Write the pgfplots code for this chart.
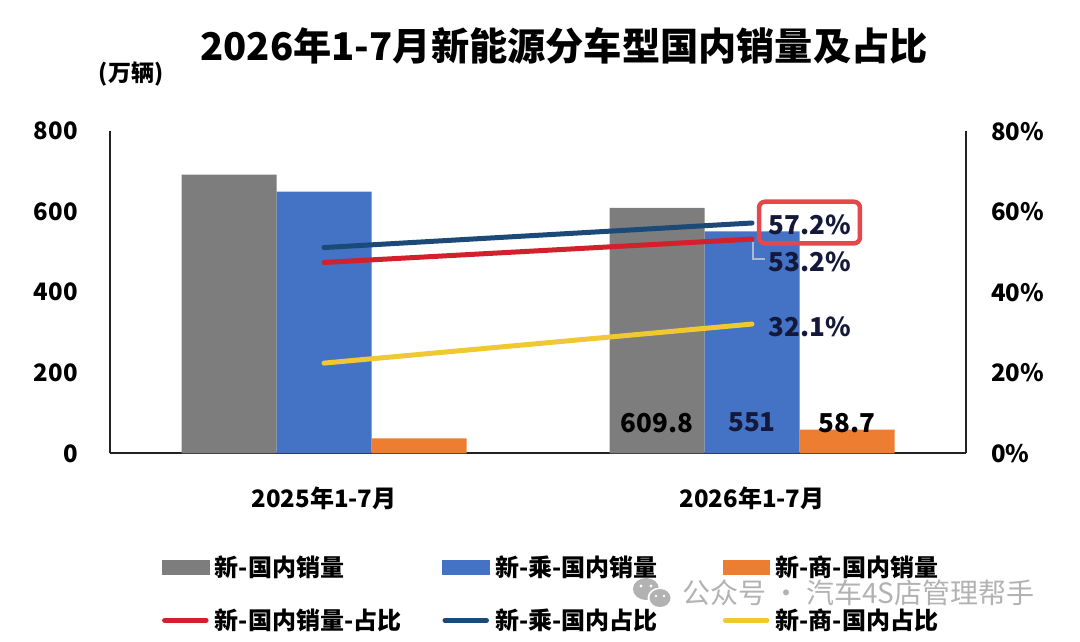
\documentclass[border=0pt]{standalone}
\usepackage{fontspec}
\setmainfont{Noto Sans CJK SC}
\usepackage{pgfplots}
\pgfplotsset{compat=1.18}
\definecolor{cgrey}{HTML}{7C7D7C}
\definecolor{cblue}{HTML}{4472C4}
\definecolor{corange}{HTML}{ED7D31}
\definecolor{cred}{HTML}{D2202C}
\definecolor{cnavy}{HTML}{1B4A78}
\definecolor{cyellow}{HTML}{F0C832}
\definecolor{axisc}{HTML}{222222}
\definecolor{lbltext}{HTML}{14183A}
\definecolor{boxred}{HTML}{E4474C}
\definecolor{leader}{HTML}{A9B9D6}
\definecolor{wmgrey}{HTML}{B2B2B2}
\begin{document}
\begin{tikzpicture}[x=1pt,y=1pt]
\path[use as bounding box] (0,0) rectangle (1080,642);
\node[font=\bfseries\fontsize{38.2}{42}\selectfont, inner sep=0pt] at (564,596.4) {2026年1-7月新能源分车型国内销量及占比};
\node[font=\bfseries\fontsize{23}{26}\selectfont, inner sep=0pt] at (131,568) {(万辆)};

\begin{axis}[
  at={(110pt,188.7pt)}, anchor=south west, scale only axis,
  width=856pt, height=322.1pt,
  xmin=-0.5, xmax=1.5, ymin=0, ymax=800, enlargelimits=false,
  ybar=0pt, bar width=95pt,
  axis x line*=bottom, axis y line*=left,
  axis line style={line width=2pt, draw=axisc},
  xtick={0,1}, xticklabels={2025年1-7月,2026年1-7月},
  ytick={0,200,400,600,800},
  major tick length=0pt,
  /pgf/number format/assume math mode=true,
  tick label style={font=\bfseries\fontsize{24}{28}\selectfont, text=black},
  yticklabel style={inner sep=0pt, anchor=east, xshift=-32pt},
  xticklabel style={inner sep=0pt, anchor=center, yshift=-45pt},
  clip=false,
]
\addplot[fill=cgrey, draw=none] coordinates {(0,692) (1,609.8)};
\addplot[fill=cblue, draw=none] coordinates {(0,650) (1,551)};
\addplot[fill=corange, draw=none] coordinates {(0,37) (1,58.7)};
\end{axis}

\begin{axis}[
  at={(110pt,188.7pt)}, anchor=south west, scale only axis,
  width=856pt, height=322.1pt,
  xmin=-0.5, xmax=1.5, ymin=0, ymax=80, enlargelimits=false,
  axis x line=none, axis y line*=right,
  axis line style={line width=2pt, draw=axisc},
  ytick={0,20,40,60,80},
  yticklabel={\pgfmathprintnumber{\tick}\%},
  major tick length=0pt,
  /pgf/number format/assume math mode=true,
  tick label style={font=\bfseries\fontsize{24}{28}\selectfont, text=black},
  yticklabel style={inner sep=0pt, anchor=west, xshift=25pt},
  clip=false,
  legend columns=3,
  legend style={at={(0.0604,-0.318)}, anchor=north west, draw=none, fill=none,
    inner sep=0pt, row sep=31pt, column sep=0pt,
    font=\bfseries\fontsize{24}{28}\selectfont,
    nodes={inner sep=0pt, text width=227.4pt, align=left},
    /tikz/every odd column/.append style={column sep=6pt}},
  legend image code/.code={\draw[#1] (2.5pt,0pt) -- (44pt,0pt);},
]
\addlegendimage{legend image code/.code={\fill[cgrey] (0pt,-7pt) rectangle (46.6pt,7pt);}}
\addlegendentry{新-国内销量}
\addlegendimage{legend image code/.code={\fill[cblue] (0pt,-7pt) rectangle (46.6pt,7pt);}}
\addlegendentry{新-乘-国内销量}
\addlegendimage{legend image code/.code={\fill[corange] (0pt,-7pt) rectangle (46.6pt,7pt);}}
\addlegendentry{新-商-国内销量}
\addplot[cred, line width=5pt, line cap=round] coordinates {(0,47.4) (1,53.2)};
\addlegendentry{新-国内销量-占比}
\addplot[cnavy, line width=5pt, line cap=round] coordinates {(0,51.1) (1,57.2)};
\addlegendentry{新-乘-国内占比}
\addplot[cyellow, line width=5pt, line cap=round] coordinates {(0,22.4) (1,32.1)};
\addlegendentry{新-商-国内占比}
% data labels of the 2026 bars
\node[font=\bfseries\fontsize{26}{30}\selectfont, text=black, inner sep=0pt] at (axis cs:0.778,7.6) {609.8};
\node[font=\bfseries\fontsize{26}{30}\selectfont, text=lbltext, inner sep=0pt] at (axis cs:1,7.6) {551};
\node[font=\bfseries\fontsize{26}{30}\selectfont, text=black, inner sep=0pt] at (axis cs:1.222,7.6) {58.7};
% labels of the share lines
\draw[boxred, line width=4.5pt, rounded corners=6pt] (axis cs:1.0164,62.48) rectangle (axis cs:1.2523,52.15);
\node[font=\bfseries\fontsize{26}{30}\selectfont, text=lbltext, inner sep=0pt] at (axis cs:1.1355,56.7) {57.2\%};
\draw[leader, line width=1.3pt] (axis cs:1.0023,52.55) -- (axis cs:1.0023,48.25) -- (axis cs:1.0304,48.25);
\node[font=\bfseries\fontsize{26}{30}\selectfont, text=lbltext, inner sep=0pt] at (axis cs:1.1355,47.6) {53.2\%};
\node[font=\bfseries\fontsize{26}{30}\selectfont, text=lbltext, inner sep=0pt] at (axis cs:1.1355,31.4) {32.1\%};
\end{axis}

% WeChat account watermark
\fill[wmgrey] (646,53) ellipse (13pt and 11pt);
\fill[white] (660,44) ellipse (12.5pt and 10.5pt);
\fill[wmgrey] (660,44) ellipse (10.5pt and 9pt);
\fill[white] (641,56) circle (1.6pt) (651,56) circle (1.6pt) (656,46) circle (1.4pt) (664,46) circle (1.4pt);
\node[anchor=west, inner sep=0pt, text=wmgrey, font=\fontsize{28}{32}\selectfont] at (682,49) {公众号\hspace{6pt}·\hspace{6pt}汽车4S店管理帮手};
\end{tikzpicture}
\end{document}
